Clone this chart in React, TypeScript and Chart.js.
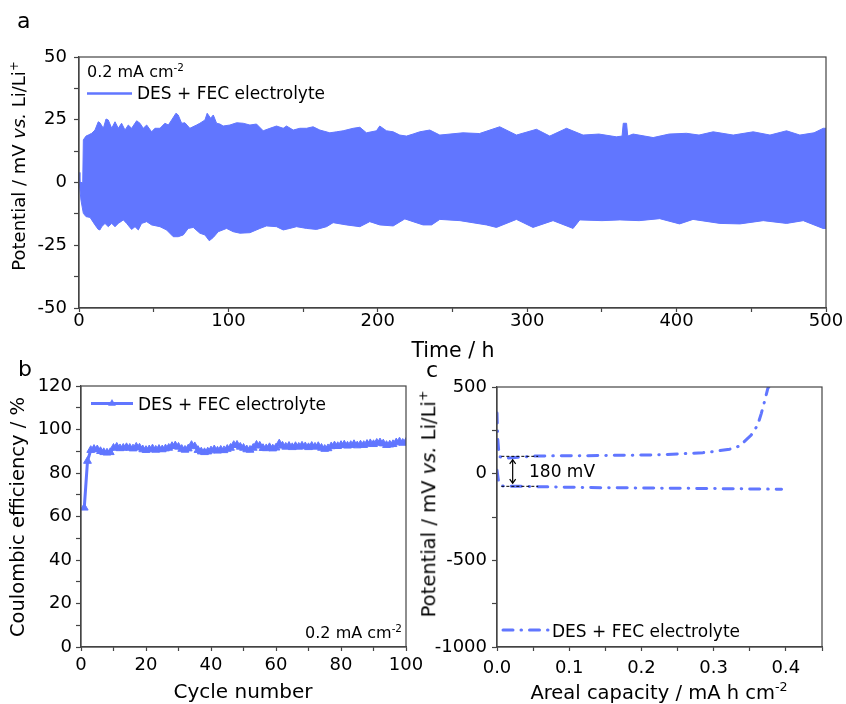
import React, { useEffect, useRef } from 'react';
import { Chart, registerables } from 'chart.js';
Chart.register(...registerables);

const BLUE = '#6176ff';
const AXIS = '#444';
const FONT = '"DejaVu Sans", sans-serif';

// ---------- Panel a : voltage profile (upper / lower envelope of the oscillation) ----------
const aUpperTime = [0, 0.6, 2.5, 2.9, 4.7, 6.2, 8.5, 10.7, 12.9, 14, 16.3, 18.1, 19.6, 21.9, 24.1, 26.3, 28.5, 30.8, 33, 35.2, 38.6, 40.8, 43, 45.3, 48.6, 50.8, 54.2, 57.5, 59.8, 62, 64.9, 66.4, 68.7, 70.9, 74.2, 78.7, 80.9, 84.3, 85.8, 88.1, 89.9, 92.1, 94.3, 96.5, 101, 105.5, 109.9, 114.4, 118.8, 123.3, 127.8, 132.2, 136.7, 138.9, 143.4, 147.8, 152.3, 156.7, 161.2, 167.9, 172.4, 176.8, 183.5, 188, 192.4, 199.1, 201.3, 205.8, 210.3, 214.7, 219.2, 223.6, 228.1, 234.8, 241.5, 257, 268, 281.6, 292.8, 306.2, 315.1, 326.3, 337.4, 348, 359.7, 363.5, 364.3, 366.5, 367.3, 370.9, 384.3, 395, 406.6, 415, 424.5, 437.9, 451.3, 462.5, 473.6, 482.5, 492, 498.2, 500];
const aUpperVal = [4, 0, 0, 17, 18.5, 18.9, 19.6, 20.9, 24.2, 23.8, 21.6, 25.3, 24.9, 21.6, 24.2, 21.6, 23.6, 20.9, 22.9, 21.6, 24.6, 23.6, 21.6, 22.9, 20.2, 21.6, 21.6, 23.6, 22.9, 24.9, 27.6, 26.9, 23.6, 23.8, 21.6, 22.9, 23.6, 24.9, 27.6, 25.6, 26.9, 23.6, 23.3, 22.5, 22.9, 23.8, 23.6, 22.9, 23.3, 20.6, 21.6, 22.5, 21.6, 22.5, 20.9, 21.6, 21.6, 22.2, 20.9, 19.8, 20.2, 20.6, 21.6, 22, 19.8, 20.6, 22.5, 20.6, 20.2, 18.9, 18.5, 19.3, 20.2, 20.9, 18.9, 19.8, 19.5, 22.2, 18.9, 21.2, 18.5, 21.6, 18.9, 19.3, 18.2, 18.5, 23.6, 23.6, 18.5, 19.3, 17.9, 19.3, 19.6, 18.9, 20.2, 18.9, 20.2, 18.9, 20.6, 18.9, 19.8, 21.6, 21.6];
const aLowerTime = [0, 1.3, 2.9, 4.7, 7.4, 10.7, 12.9, 14, 15.2, 17.4, 19.6, 21.9, 24.1, 26.3, 29.7, 31.9, 35.2, 37.5, 39.7, 41.9, 45.3, 48.6, 54.2, 58.6, 63.1, 66.4, 69.8, 73.1, 76.5, 80.9, 84.3, 87.2, 89.9, 93.2, 98.8, 103.2, 107.7, 114.4, 121.1, 125.5, 132.2, 136.7, 141.1, 145.6, 152.3, 159, 165.7, 170.1, 179, 188, 194.6, 201.3, 210.3, 218.1, 223.6, 230.3, 236, 241.5, 255, 272.7, 279.4, 292.8, 303.9, 317.3, 330.7, 335.2, 350, 362, 375, 388.7, 402, 411, 429, 442.4, 458, 473.6, 484.8, 498, 500];
const aLowerVal = [1, -7, -12.3, -13.6, -13.9, -16.9, -18.7, -18.9, -17.6, -16.3, -17.6, -16.3, -17.6, -16.3, -14.9, -16.3, -18.7, -17.6, -18.9, -16.3, -15.6, -16.9, -17.6, -18.9, -21.6, -21.6, -20.9, -18.3, -17.9, -20.2, -20.9, -23.2, -21.9, -19.6, -18.3, -19.6, -20.2, -20, -18.3, -17.3, -17.6, -18.9, -18.3, -17.6, -18.3, -18.7, -17.6, -16, -16.9, -17.6, -15.6, -16.9, -17.3, -14.5, -15.6, -16.9, -16.9, -14.7, -15.2, -16.9, -17.9, -14.7, -17.9, -15.2, -18.3, -14.9, -15.2, -14.9, -15.2, -14.4, -16.5, -14.7, -16.3, -16.5, -15.2, -16.3, -15.2, -18.3, -18.3];
const aXMajor = [0, 100, 200, 300, 400, 500];
const aXMinor = [50, 150, 250, 350, 450];
const aXLabels = ['0', '100', '200', '300', '400', '500'];
const aYMajor = [-50, -25, 0, 25, 50];
const aYMinor = [-37.5, -12.5, 12.5, 37.5];
const aYLabels = ['-50', '-25', '0', '25', '50'];

// ---------- Panel b : coulombic efficiency per cycle (cycles 1..100) ----------
const bCE = [64, 85.5, 90.5, 91, 90.8, 90, 89.5, 89.3, 89.5, 91.5, 92, 91.3, 91.5, 91.8, 91.5, 91.2, 92, 91.6, 90.8, 90.5, 90.8, 91.2, 90.6, 91, 90.8, 91.2, 91.5, 92.3, 92.6, 92, 91, 90.6, 91.2, 92.8, 92.2, 90.5, 89.8, 89.5, 89.8, 90.3, 90.8, 90.2, 90.6, 90.4, 91, 91.5, 92.8, 92.9, 92, 91.5, 90.8, 90.6, 91.5, 92.9, 92.5, 91.4, 91.3, 91.8, 91.2, 91.6, 93.5, 92.5, 92, 92.4, 91.8, 92.3, 92, 92.5, 92.2, 91.8, 92.4, 92, 92.3, 91.5, 91, 91.3, 92.2, 92.6, 92.3, 92.8, 93, 92.5, 92.8, 93.2, 92.6, 93, 92.8, 93.3, 93.6, 93.2, 93.8, 94, 93.5, 92.8, 93, 93.2, 94, 94.4, 93.8, 94.2];
const bXMajor = [0, 20, 40, 60, 80, 100];
const bXMinor = [10, 30, 50, 70, 90];
const bXLabels = ['0', '20', '40', '60', '80', '100'];
const bYMajor = [0, 20, 40, 60, 80, 100, 120];
const bYMinor = [10, 30, 50, 70, 90, 110];
const bYLabels = ['0', '20', '40', '60', '80', '100', '120'];

// ---------- Panel c : voltage vs areal capacity ----------
const cChargeCap = [0, 0.001, 0.003, 0.009, 0.055, 0.124, 0.216, 0.253, 0.285, 0.299, 0.322, 0.336, 0.352, 0.361, 0.366, 0.371, 0.375, 0.377];
const cChargeV = [350, 200, 100, 89, 102, 104, 108, 114, 121, 127, 141, 160, 223, 281, 348, 425, 492, 505];
const cDischargeCap = [0, 0.002, 0.006, 0.055, 0.124, 0.216, 0.3, 0.35, 0.394];
const cDischargeV = [20, -40, -71, -75, -80, -83, -86, -88, -90];
const cXMajor = [0, 0.1, 0.2, 0.3, 0.4];
const cXMinor = [0.05, 0.15, 0.25, 0.35, 0.45];
const cXLabels = ['0.0', '0.1', '0.2', '0.3', '0.4'];
const cYMajor = [-1000, -500, 0, 500];
const cYMinor = [-750, -250, 250];
const cYLabels = ['-1000', '-500', '0', '500'];
const cGuideCap = [0.006, 0.057];
const cGuideV = [100, -73];
const cArrowCap = 0.0217;
const cArrowV = [80, -55];
const cGapText = '180 mV';
const cGapTextAt = [0.0443, -19];

const LEGEND = 'DES + FEC electrolyte';

const pts = (xs: number[], ys: number[]) => xs.map((x, i) => ({ x, y: ys[i] }));

function makeAxis(o: {
  min: number; max: number; major: number[]; minor: number[]; labels: string[];
  size: number; horizontal: boolean; tickLen: number; pad: number;
}) {
  return {
    type: 'linear',
    min: o.min,
    max: o.max,
    afterBuildTicks: (s: any) => {
      s.ticks = [...o.major, ...o.minor].sort((p, q) => p - q).map((v) => ({ value: v }));
    },
    afterFit: (s: any) => {
      if (o.horizontal) s.height = o.size; else s.width = o.size;
      s.paddingLeft = 0; s.paddingRight = 0; s.paddingTop = 0; s.paddingBottom = 0;
    },
    ticks: {
      autoSkip: false,
      maxRotation: 0,
      minRotation: 0,
      padding: o.pad,
      color: '#000',
      font: { family: FONT, size: 18, lineHeight: 1 },
      callback: (v: number) => {
        const i = o.major.findIndex((m) => Math.abs(m - v) < 1e-9);
        return i >= 0 ? o.labels[i] : '';
      },
    },
    grid: {
      display: true,
      drawOnChartArea: false,
      drawTicks: true,
      tickLength: o.tickLen,
      tickColor: AXIS,
      tickWidth: 1.2,
    },
    border: { display: true, color: AXIS, width: 1.2 },
  } as any;
}

const framePlugin = {
  id: 'frameBox',
  afterDraw(chart: any) {
    const { ctx, chartArea: a } = chart;
    ctx.save();
    ctx.strokeStyle = AXIS;
    ctx.lineWidth = 1.2;
    ctx.strokeRect(a.left, a.top, a.right - a.left, a.bottom - a.top);
    ctx.restore();
  },
};

function legendPlugin(id: string, o: { x0: number; x1: number; y: number; tx: number; ty: number; dash?: number[]; marker?: boolean; width: number }) {
  return {
    id,
    afterDatasetsDraw(chart: any) {
      const ctx = chart.ctx;
      ctx.save();
      ctx.strokeStyle = BLUE;
      ctx.lineWidth = o.width;
      ctx.lineCap = o.dash ? 'round' : 'butt';
      ctx.setLineDash(o.dash || []);
      ctx.beginPath();
      ctx.moveTo(o.x0, o.y);
      ctx.lineTo(o.x1, o.y);
      ctx.stroke();
      ctx.setLineDash([]);
      if (o.marker) {
        const cx = (o.x0 + o.x1) / 2, r = 4.5;
        ctx.fillStyle = BLUE;
        ctx.beginPath();
        for (let k = 0; k < 3; k++) {
          const ang = (k * 2 * Math.PI) / 3;
          const px = cx + Math.sin(ang) * r, py = o.y - Math.cos(ang) * r;
          if (k === 0) ctx.moveTo(px, py); else ctx.lineTo(px, py);
        }
        ctx.closePath();
        ctx.fill();
      }
      ctx.fillStyle = '#000';
      ctx.font = `17px ${FONT}`;
      ctx.textBaseline = 'alphabetic';
      ctx.textAlign = 'left';
      ctx.fillText(LEGEND, o.tx, o.ty);
      ctx.restore();
    },
  };
}

const gapPlugin = {
  id: 'gapAnnot',
  afterDatasetsDraw(chart: any) {
    const { ctx } = chart;
    const xs = chart.scales.x, ys = chart.scales.y;
    const x0 = xs.getPixelForValue(cGuideCap[0]);
    const x1 = xs.getPixelForValue(cGuideCap[1]);
    ctx.save();
    ctx.strokeStyle = '#000';
    ctx.lineWidth = 1;
    ctx.setLineDash([3, 2]);
    cGuideV.forEach((v) => {
      const y = ys.getPixelForValue(v);
      ctx.beginPath(); ctx.moveTo(x0, y); ctx.lineTo(x1, y); ctx.stroke();
    });
    ctx.setLineDash([]);
    const ax = xs.getPixelForValue(cArrowCap);
    const ay0 = ys.getPixelForValue(cArrowV[0]);
    const ay1 = ys.getPixelForValue(cArrowV[1]);
    ctx.lineWidth = 1.2;
    ctx.beginPath(); ctx.moveTo(ax, ay0); ctx.lineTo(ax, ay1); ctx.stroke();
    ctx.beginPath();
    ctx.moveTo(ax - 3, ay0 + 4); ctx.lineTo(ax, ay0); ctx.lineTo(ax + 3, ay0 + 4);
    ctx.moveTo(ax - 3, ay1 - 4); ctx.lineTo(ax, ay1); ctx.lineTo(ax + 3, ay1 - 4);
    ctx.stroke();
    ctx.fillStyle = '#000';
    ctx.font = `17px ${FONT}`;
    ctx.textBaseline = 'alphabetic';
    ctx.fillText(cGapText, xs.getPixelForValue(cGapTextAt[0]), ys.getPixelForValue(cGapTextAt[1]));
    ctx.restore();
  },
};

const baseOpts = (padding: any) => ({
  responsive: false,
  animation: false,
  layout: { padding },
  plugins: { legend: { display: false }, tooltip: { enabled: false } },
  elements: { line: { tension: 0 } },
});

export default function App() {
  const refA = useRef<HTMLCanvasElement>(null);
  const refB = useRef<HTMLCanvasElement>(null);
  const refC = useRef<HTMLCanvasElement>(null);

  useEffect(() => {
    const chartA = new Chart(refA.current as HTMLCanvasElement, {
      type: 'line',
      data: {
        datasets: [
          { data: pts(aUpperTime, aUpperVal), borderColor: BLUE, backgroundColor: BLUE, borderWidth: 1, pointRadius: 0, fill: '+1' },
          { data: pts(aLowerTime, aLowerVal), borderColor: BLUE, backgroundColor: BLUE, borderWidth: 1, pointRadius: 0, fill: false },
        ],
      },
      options: {
        ...baseOpts({ left: 0, top: 57, right: 20, bottom: 0 }),
        scales: {
          x: makeAxis({ min: 0, max: 500, major: aXMajor, minor: aXMinor, labels: aXLabels, size: 32, horizontal: true, tickLen: 4, pad: 0.5 }),
          y: makeAxis({ min: -50, max: 50, major: aYMajor, minor: aYMinor, labels: aYLabels, size: 79, horizontal: false, tickLen: 5, pad: 7 }),
        },
      } as any,
      plugins: [framePlugin, legendPlugin('legA', { x0: 87, x1: 132, y: 93.5, tx: 137, ty: 99, width: 2.5 })],
    });

    const chartB = new Chart(refB.current as HTMLCanvasElement, {
      type: 'line',
      data: {
        datasets: [
          {
            data: bCE.map((v, i) => ({ x: i + 1, y: v })),
            borderColor: BLUE, backgroundColor: BLUE, borderWidth: 3,
            pointStyle: 'triangle', pointRadius: 4.5, pointBackgroundColor: BLUE, pointBorderColor: BLUE, pointBorderWidth: 1,
          },
        ],
      },
      options: {
        ...baseOpts({ left: 0, top: 26, right: 34, bottom: 0 }),
        scales: {
          x: makeAxis({ min: 0, max: 100, major: bXMajor, minor: bXMinor, labels: bXLabels, size: 57, horizontal: true, tickLen: 4, pad: 5.8 }),
          y: makeAxis({ min: 0, max: 120, major: bYMajor, minor: bYMinor, labels: bYLabels, size: 81, horizontal: false, tickLen: 5, pad: 4 }),
        },
      } as any,
      plugins: [framePlugin, legendPlugin('legB', { x0: 91, x1: 133, y: 43.5, tx: 138, ty: 50, width: 3, marker: true })],
    });

    const dash = [10, 8, 0.5, 8];
    const chartC = new Chart(refC.current as HTMLCanvasElement, {
      type: 'line',
      data: {
        datasets: [
          { data: pts(cChargeCap, cChargeV), borderColor: BLUE, borderWidth: 3, borderDash: dash, borderCapStyle: 'round', pointRadius: 0, fill: false },
          { data: pts(cDischargeCap, cDischargeV), borderColor: BLUE, borderWidth: 3, borderDash: dash, borderCapStyle: 'round', pointRadius: 0, fill: false },
        ],
      },
      options: {
        ...baseOpts({ left: 0, top: 27, right: 24, bottom: 0 }),
        scales: {
          x: makeAxis({ min: 0, max: 0.45, major: cXMajor, minor: cXMinor, labels: cXLabels, size: 57, horizontal: true, tickLen: 4, pad: 8.3 }),
          y: makeAxis({ min: -1000, max: 500, major: cYMajor, minor: cYMinor, labels: cYLabels, size: 77, horizontal: false, tickLen: 5, pad: 5 }),
        },
      } as any,
      plugins: [framePlugin, gapPlugin, legendPlugin('legC', { x0: 83, x1: 128, y: 270, tx: 132, ty: 277, width: 3, dash })],
    });

    return () => {
      chartA.destroy();
      chartB.destroy();
      chartC.destroy();
    };
  }, []);

  const abs = (s: React.CSSProperties): React.CSSProperties => ({ position: 'absolute', whiteSpace: 'nowrap', lineHeight: 1, color: '#000', ...s });
  const sup: React.CSSProperties = { fontSize: '0.65em', verticalAlign: '0.6em', lineHeight: 0 };
  const rot = (cx: number, cy: number, size: number): React.CSSProperties =>
    abs({ left: cx, top: cy, fontSize: size, transform: 'translate(-50%, -50%) rotate(-90deg)' });

  return (
    <div style={{ position: 'absolute', left: 0, top: 0, width: 846, height: 704, background: '#fff', fontFamily: FONT, overflow: 'hidden' }}>
      <canvas ref={refA} width={846} height={340} style={{ position: 'absolute', left: 0, top: 0, width: 846, height: 340 }} />
      <canvas ref={refB} width={440} height={344} style={{ position: 'absolute', left: 0, top: 360, width: 440, height: 344 }} />
      <canvas ref={refC} width={426} height={344} style={{ position: 'absolute', left: 420, top: 360, width: 426, height: 344 }} />

      <div style={abs({ left: 17, top: 10, fontSize: 22 })}>a</div>
      <div style={abs({ left: 18, top: 358, fontSize: 22 })}>b</div>
      <div style={abs({ left: 426, top: 359, fontSize: 22 })}>c</div>

      <div style={rot(19, 166, 18)}>Potential / mV <i>vs.</i> Li/Li<sup style={sup}>+</sup></div>
      <div style={abs({ left: 453, top: 340, fontSize: 20.5, transform: 'translateX(-50%)' })}>Time / h</div>
      <div style={abs({ left: 87, top: 64, fontSize: 16 })}>0.2 mA cm<sup style={sup}>-2</sup></div>

      <div style={rot(18, 517, 19.5)}>Coulombic efficiency / %</div>
      <div style={abs({ left: 243, top: 681, fontSize: 20, transform: 'translateX(-50%)' })}>Cycle number</div>
      <div style={abs({ left: 402, top: 625, fontSize: 16, transform: 'translateX(-100%)' })}>0.2 mA cm<sup style={sup}>-2</sup></div>

      <div style={rot(429, 504, 19.5)}>Potential / mV <i>vs.</i> Li/Li<sup style={sup}>+</sup></div>
      <div style={abs({ left: 659, top: 683, fontSize: 19.5, transform: 'translateX(-50%)' })}>Areal capacity / mA h cm<sup style={sup}>-2</sup></div>
    </div>
  );
}
